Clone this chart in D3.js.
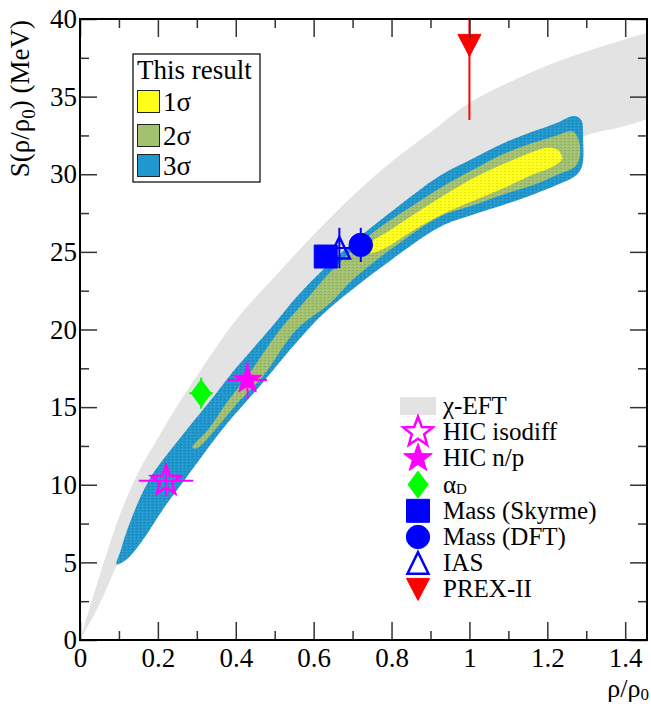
<!DOCTYPE html>
<html>
<head>
<meta charset="utf-8">
<script src="https://cdn.jsdelivr.net/npm/d3@7"></script>
<style>
    body { margin: 0; background: #fff; }
    svg text { font-family: "Liberation Serif", "Times New Roman", serif; fill: #000; }
</style>
</head>
<body>
<div id="chart"></div>
<script>
// axis ticks
const xTickValues = [0, 0.2, 0.4, 0.6, 0.8, 1, 1.2, 1.4];
const xMinorValues = [0.1, 0.3, 0.5, 0.7, 0.9, 1.1, 1.3];
const yTickValues = [0, 5, 10, 15, 20, 25, 30, 35, 40];
const yMinorValues = [2.5, 7.5, 12.5, 17.5, 22.5, 27.5, 32.5, 37.5];

// chi-EFT band (upper / lower edge)
const eftX = [0, 0.05, 0.1, 0.15, 0.2, 0.25, 0.3, 0.4, 0.5, 0.6, 0.7, 0.8, 0.9, 1.0, 1.1, 1.2, 1.3, 1.4, 1.46];
const eftUpper = [0, 4.1, 7.9, 10.8, 13.0, 15.1, 17.0, 20.6, 23.4, 26.1, 28.6, 30.8, 32.7, 34.6, 35.9, 37.0, 37.9, 38.7, 39.1];
const eftLower = [0, 2.3, 5.1, 7.3, 9.5, 11.4, 13.1, 16.2, 18.9, 21.4, 23.6, 25.6, 27.3, 28.8, 30.1, 31.3, 32.5, 33.1, 33.6];

// "This result" contours, outline points [rho, S]
const sigma3Outline = [
    [0.094, 4.87], [0.105, 5.8], [0.12, 7.0], [0.175, 10.2], [0.26, 13.1], [0.35, 15.9],
    [0.40, 17.5], [0.49, 20.1], [0.56, 22.2], [0.63, 24.0], [0.72, 26.0], [0.8, 27.6],
    [0.924, 29.9], [1.0, 30.9], [1.096, 32.1], [1.224, 33.3], [1.268, 33.75], [1.287, 33.5],
    [1.292, 32.2], [1.29, 30.6], [1.275, 29.95],
    [1.224, 29.3], [1.164, 28.7], [1.096, 28.1], [1.01, 27.4], [0.924, 26.6], [0.8, 24.5],
    [0.7, 22.6], [0.62, 20.9], [0.55, 19.0], [0.46, 16.3], [0.37, 13.7], [0.267, 10.25],
    [0.21, 8.3], [0.16, 6.4], [0.12, 5.2]
];
const sigma2Outline = [
    [0.288, 12.4], [0.329, 13.55], [0.377, 15.3], [0.43, 17.0], [0.513, 19.97], [0.573, 21.69],
    [0.65, 23.9], [0.75, 26.2], [0.85, 27.9], [0.924, 29.1], [1.01, 30.3], [1.096, 31.4],
    [1.224, 32.5], [1.266, 32.75], [1.284, 31.8], [1.275, 30.6],
    [1.224, 29.95], [1.164, 29.3], [1.096, 28.77], [1.01, 28.0], [0.924, 27.27], [0.8, 25.2],
    [0.7, 23.2], [0.642, 21.69], [0.555, 19.97], [0.47, 17.0], [0.402, 15.2], [0.342, 13.4],
    [0.30, 12.35]
];
const sigma1Outline = [
    [0.735, 25.3], [0.8, 26.45], [0.9, 28.1], [1.01, 29.75], [1.096, 30.75], [1.164, 31.45],
    [1.2, 31.7], [1.228, 31.55], [1.238, 31.0],
    [1.215, 30.5], [1.164, 30.0], [1.096, 29.2], [1.01, 28.3], [0.924, 27.35], [0.85, 26.3],
    [0.78, 25.2], [0.745, 24.95]
];

// constraints (points with errors)
const pointNames = ['HIC isodiff', 'HIC n/p', 'alphaD', 'Mass (Skyrme)', 'Mass (DFT)', 'IAS', 'PREX-II'];
const pointX = [0.221, 0.43, 0.311, 0.631, 0.721, 0.666, 1.0];
const pointY = [10.25, 16.75, 15.9, 24.7, 25.45, 25.25, 38.3];
const pointXErr = [0.07, 0.05, 0.03, 0, 0, 0.03, 0];
const pointYErr = [1.0, 1.2, 1.0, 0, 1.1, 1.3, 4.8];

// legends
const resultLabels = ['1σ', '2σ', '3σ'];
const constraintLabels = ['χ-EFT', 'HIC isodiff', 'HIC n/p', 'αD', 'Mass (Skyrme)', 'Mass (DFT)', 'IAS', 'PREX-II'];

const width = 651;
const height = 704;
const fontSize = 27;
const legendFontSize = 25;

const x = d3.scaleLinear().domain([0, 1.456]).range([80, 647]);
const y = d3.scaleLinear().domain([0, 40]).range([640, 19]);

const svg = d3.select('#chart').append('svg')
    .attr('width', width)
    .attr('height', height)
    .attr('font-family', '"Liberation Serif", "Times New Roman", serif');

const defs = svg.append('defs');
defs.append('clipPath')
    .attr('id', 'plot-clip')
    .append('rect')
    .attr('x', 80).attr('y', 19)
    .attr('width', 567).attr('height', 621);

// fine grain texture that the contour fills show
const tex = defs.append('pattern')
    .attr('id', 'grain')
    .attr('patternUnits', 'userSpaceOnUse')
    .attr('width', 4).attr('height', 3);
tex.append('rect').attr('x', 0).attr('y', 0).attr('width', 2).attr('height', 1).attr('fill', 'rgba(0,0,0,0.10)');
tex.append('rect').attr('x', 2).attr('y', 2).attr('width', 1).attr('height', 1).attr('fill', 'rgba(255,255,255,0.15)');

const plot = svg.append('g').attr('clip-path', 'url(#plot-clip)');

// grey chi-EFT band
const eftData = eftX.map((d, i) => ({ x: d, lo: eftLower[i], hi: eftUpper[i] }));
plot.append('path')
    .datum(eftData)
    .attr('fill', '#e3e3e3')
    .attr('d', d3.area()
        .x(d => x(d.x))
        .y0(d => y(d.lo))
        .y1(d => y(d.hi))
        .curve(d3.curveMonotoneX));

// contours 3 sigma -> 1 sigma
const contourLine = d3.line()
    .x(d => x(d[0]))
    .y(d => y(d[1]))
    .curve(d3.curveCatmullRomClosed.alpha(0.5));

const contourColors = ['#ffff1a', '#a3c26f', '#1f98d0'];
[sigma3Outline, sigma2Outline, sigma1Outline].forEach((outline, i) => {
    plot.append('path')
        .datum(outline)
        .attr('fill', contourColors[2 - i])
        .attr('d', contourLine);
    plot.append('path')
        .datum(outline)
        .attr('fill', 'url(#grain)')
        .attr('d', contourLine);
});

// marker shapes
function starPath(R, r) {
    const pts = [];
    for (let i = 0; i < 10; i++) {
        const a = (-90 + i * 36) * Math.PI / 180;
        const rad = i % 2 ? r : R;
        pts.push([rad * Math.cos(a), rad * Math.sin(a)]);
    }
    return 'M' + pts.map(p => p.join(',')).join('L') + 'Z';
}

const markerStyle = {
    'HIC isodiff': { d: starPath(15.5, 6.5), color: '#ff00ff', open: true },
    'HIC n/p': { d: starPath(15, 6), color: '#ff00ff', open: false },
    'alphaD': { d: 'M0,-13.5L10,0L0,13.5L-10,0Z', color: '#00ff00', open: false },
    'Mass (Skyrme)': { d: 'M-11.5,-11.5L11.5,-11.5L11.5,11.5L-11.5,11.5Z', color: '#0000ff', open: false },
    'Mass (DFT)': { d: d3.symbol(d3.symbolCircle, Math.PI * 11.7 * 11.7)(), color: '#0000ff', open: false },
    'IAS': { d: 'M0,-11L10.5,10.5L-10.5,10.5Z', color: '#0000ff', open: true },
    'PREX-II': { d: 'M-11.5,-11L11.5,-11L0,11Z', color: '#ff0000', open: false }
};

function drawMarker(g, name, cx, cy) {
    const st = markerStyle[name];
    g.append('path')
        .attr('transform', `translate(${cx},${cy})`)
        .attr('d', st.d)
        .attr('fill', st.open ? 'none' : st.color)
        .attr('stroke', st.color)
        .attr('stroke-width', st.open ? 2.5 : 1)
        .attr('stroke-linejoin', 'miter');
}

// error bars, then markers
pointNames.forEach((name, i) => {
    const col = markerStyle[name].color;
    const cx = x(pointX[i]);
    const cy = y(pointY[i]);
    if (pointXErr[i] > 0) {
        plot.append('line')
            .attr('x1', x(pointX[i] - pointXErr[i])).attr('x2', x(pointX[i] + pointXErr[i]))
            .attr('y1', cy).attr('y2', cy)
            .attr('stroke', col).attr('stroke-width', 2);
    }
    if (pointYErr[i] > 0) {
        plot.append('line')
            .attr('x1', cx).attr('x2', cx)
            .attr('y1', y(pointY[i] - pointYErr[i])).attr('y2', y(pointY[i] + pointYErr[i]))
            .attr('stroke', col).attr('stroke-width', 2);
    }
});
pointNames.forEach((name, i) => {
    drawMarker(plot, name, x(pointX[i]), y(pointY[i]));
});

// axes: ticks point inwards on all four sides
function styleAxis(g) {
    g.select('.domain').remove();
    g.attr('font-family', null).attr('font-size', null);
    g.selectAll('.tick line').attr('stroke', '#333').attr('stroke-width', 1.5);
    g.selectAll('.tick text').attr('font-size', fontSize);
}

svg.append('g')
    .attr('transform', 'translate(0,640)')
    .call(d3.axisBottom(x).tickValues(xTickValues).tickSize(-18).tickPadding(8).tickFormat(d3.format('')))
    .call(styleAxis);
svg.append('g')
    .attr('transform', 'translate(0,640)')
    .call(d3.axisBottom(x).tickValues(xMinorValues).tickSize(-9).tickFormat(''))
    .call(styleAxis);
svg.append('g')
    .attr('transform', 'translate(0,19)')
    .call(d3.axisTop(x).tickValues(xTickValues).tickSize(-18).tickFormat(''))
    .call(styleAxis);
svg.append('g')
    .attr('transform', 'translate(0,19)')
    .call(d3.axisTop(x).tickValues(xMinorValues).tickSize(-9).tickFormat(''))
    .call(styleAxis);

svg.append('g')
    .attr('transform', 'translate(80,0)')
    .call(d3.axisLeft(y).tickValues(yTickValues).tickSize(-17).tickPadding(3))
    .call(styleAxis);
svg.append('g')
    .attr('transform', 'translate(80,0)')
    .call(d3.axisLeft(y).tickValues(yMinorValues).tickSize(-9).tickFormat(''))
    .call(styleAxis);
svg.append('g')
    .attr('transform', 'translate(647,0)')
    .call(d3.axisRight(y).tickValues(yTickValues).tickSize(-17).tickFormat(''))
    .call(styleAxis);
svg.append('g')
    .attr('transform', 'translate(647,0)')
    .call(d3.axisRight(y).tickValues(yMinorValues).tickSize(-9).tickFormat(''))
    .call(styleAxis);

// frame
svg.append('rect')
    .attr('x', 80).attr('y', 19)
    .attr('width', 567).attr('height', 621)
    .attr('fill', 'none')
    .attr('stroke', '#000')
    .attr('stroke-width', 2);

// axis titles
const yTitle = svg.append('text')
    .attr('transform', 'translate(29,20) rotate(-90)')
    .attr('text-anchor', 'end')
    .attr('font-size', fontSize);
yTitle.append('tspan').text('S(ρ/ρ');
yTitle.append('tspan').attr('dy', 6).attr('font-size', 19).text('0');
yTitle.append('tspan').attr('dy', -6).text(') (MeV)');

const xTitle = svg.append('text')
    .attr('x', 649).attr('y', 697)
    .attr('text-anchor', 'end')
    .attr('font-size', 26);
xTitle.append('tspan').text('ρ/ρ');
xTitle.append('tspan').attr('dy', 3).attr('font-size', 17).text('0');

// legend "This result"
const resLegend = svg.append('g');
resLegend.append('rect')
    .attr('x', 133).attr('y', 54)
    .attr('width', 127).attr('height', 128)
    .attr('fill', '#fff')
    .attr('stroke', '#000')
    .attr('stroke-width', 1.2);
resLegend.append('text')
    .attr('x', 137).attr('y', 79)
    .attr('font-size', fontSize)
    .text('This result');
const resRowY = [101.5, 135.5, 165.5];
resultLabels.forEach((lab, i) => {
    resLegend.append('rect')
        .attr('x', 137.5).attr('y', resRowY[i] - 11)
        .attr('width', 22).attr('height', 22)
        .attr('fill', contourColors[i])
        .attr('stroke', '#222')
        .attr('stroke-width', 1);
    resLegend.append('text')
        .attr('x', 163).attr('y', resRowY[i] + 9.5)
        .attr('font-size', fontSize)
        .text(lab);
});

// legend for constraints
const conLegend = svg.append('g');
const rowY = d3.range(constraintLabels.length).map(i => 406 + i * 26.2);
constraintLabels.forEach((lab, i) => {
    const cy = rowY[i];
    if (i === 0) {
        conLegend.append('rect')
            .attr('x', 400).attr('y', cy - 9)
            .attr('width', 36).attr('height', 18)
            .attr('fill', '#e3e3e3');
    } else {
        drawMarker(conLegend, pointNames[i - 1], 418, cy);
    }
    const t = conLegend.append('text')
        .attr('x', 443).attr('y', cy + 8)
        .attr('font-size', legendFontSize);
    if (lab === 'αD') {
        t.append('tspan').text('α');
        t.append('tspan').attr('dy', 1).attr('font-size', 15).text('D');
    } else {
        t.text(lab);
    }
});
</script>
</body>
</html>
